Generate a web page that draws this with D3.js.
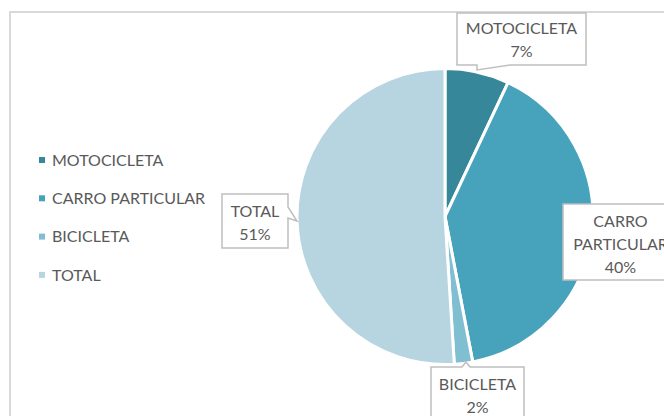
<!DOCTYPE html>
<html>
<head>
<meta charset="utf-8">
<script src="https://cdn.jsdelivr.net/npm/d3@7/dist/d3.min.js"></script>
<style>
  html, body { margin: 0; padding: 0; background: #ffffff; }
  svg { display: block; }
  text { font-family: Lato, "Open Sans", sans-serif; fill: #595959; }
</style>
</head>
<body>
<svg id="chart" width="664" height="416"></svg>
<script>
// Vehicle share by category
const categories = ["MOTOCICLETA", "CARRO PARTICULAR", "BICICLETA", "TOTAL"];
const values = [7, 40, 2, 51];
const colors = ["#37879a", "#47a3bb", "#7fbfd1", "#b6d5e0"];

const W = 664, H = 416;
const svg = d3.select("#chart");

// outer chart frame
svg.append("rect")
  .attr("x", 10).attr("y", 12)
  .attr("width", W + 20).attr("height", H + 20)
  .attr("fill", "#ffffff")
  .attr("stroke", "#d9d9d9").attr("stroke-width", 2);

const cx = 445, cy = 216.5, R = 148;
const total = d3.sum(values);
const pct = v => Math.round(v / total * 100) + "%";

const pie = d3.pie().sort(null).value(d => d.value);
const arcs = pie(categories.map((c, i) => ({ name: c, value: values[i], color: colors[i] })));
const arc = d3.arc().innerRadius(0).outerRadius(R);

const g = svg.append("g").attr("transform", `translate(${cx},${cy})`);
g.selectAll("path.slice")
  .data(arcs)
  .join("path")
  .attr("class", "slice")
  .attr("d", arc)
  .attr("fill", d => d.data.color)
  .attr("stroke", "#ffffff")
  .attr("stroke-width", 3)
  .attr("stroke-linejoin", "round");

// legend
const legend = svg.append("g").attr("transform", "translate(39,160)");
const item = legend.selectAll("g").data(categories).join("g")
  .attr("transform", (d, i) => `translate(0,${i * 38.3})`);
item.append("rect")
  .attr("x", 0).attr("y", -3).attr("width", 6).attr("height", 6)
  .attr("fill", (d, i) => colors[i]);
item.append("text")
  .attr("x", 13).attr("y", 5.8)
  .style("font-size", "16px")
  .text(d => d);

// data callouts: box rectangle, pointer wedge on one side, text lines
const callouts = [
  { i: 0, box: [457, 13, 586, 65], side: "bottom", ptr: [477, 70, 510], lines: ["MOTOCICLETA"], lineY: [34, 57] },
  { i: 1, box: [563, 204, 678, 280], side: "none", lines: ["CARRO", "PARTICULAR"], lineY: [227, 250, 273] },
  { i: 2, box: [431, 367, 524, 440], side: "top", ptr: [462, 362, 470], lines: ["BICICLETA"], lineY: [390, 413] },
  { i: 3, box: [222, 194, 288, 248], side: "right", ptr: [207, 297, 221, 218], lines: ["TOTAL"], lineY: [217, 240] }
];

function boxPath(c) {
  const [x0, y0, x1, y1] = c.box;
  const p = d3.path();
  p.moveTo(x0, y0);
  if (c.side === "top") {
    const [a, ty, b] = c.ptr;
    p.lineTo(a, y0); p.lineTo((a + b) / 2, ty); p.lineTo(b, y0);
  }
  p.lineTo(x1, y0);
  if (c.side === "right") {
    const [s, tx, ty, e] = c.ptr;
    p.lineTo(x1, s); p.lineTo(tx, ty); p.lineTo(x1, e);
  }
  p.lineTo(x1, y1);
  if (c.side === "bottom") {
    const [tx, ty, e] = c.ptr;
    p.lineTo(e, y1); p.lineTo(tx, ty); p.lineTo(tx, y1);
  }
  p.lineTo(x0, y1);
  p.closePath();
  return p.toString();
}

const cg = svg.append("g");
callouts.forEach(c => {
  cg.append("path")
    .attr("d", boxPath(c))
    .attr("fill", "#ffffff")
    .attr("stroke", "#bfbfbf")
    .attr("stroke-width", 1.5)
    .attr("stroke-linejoin", "miter");
  const mx = (c.box[0] + c.box[2]) / 2;
  const texts = c.lines.concat([pct(values[c.i])]);
  texts.forEach((t, k) => {
    cg.append("text")
      .attr("x", mx).attr("y", c.lineY[k])
      .attr("text-anchor", "middle")
      .style("font-size", "16px")
      .text(t);
  });
});
</script>
</body>
</html>
